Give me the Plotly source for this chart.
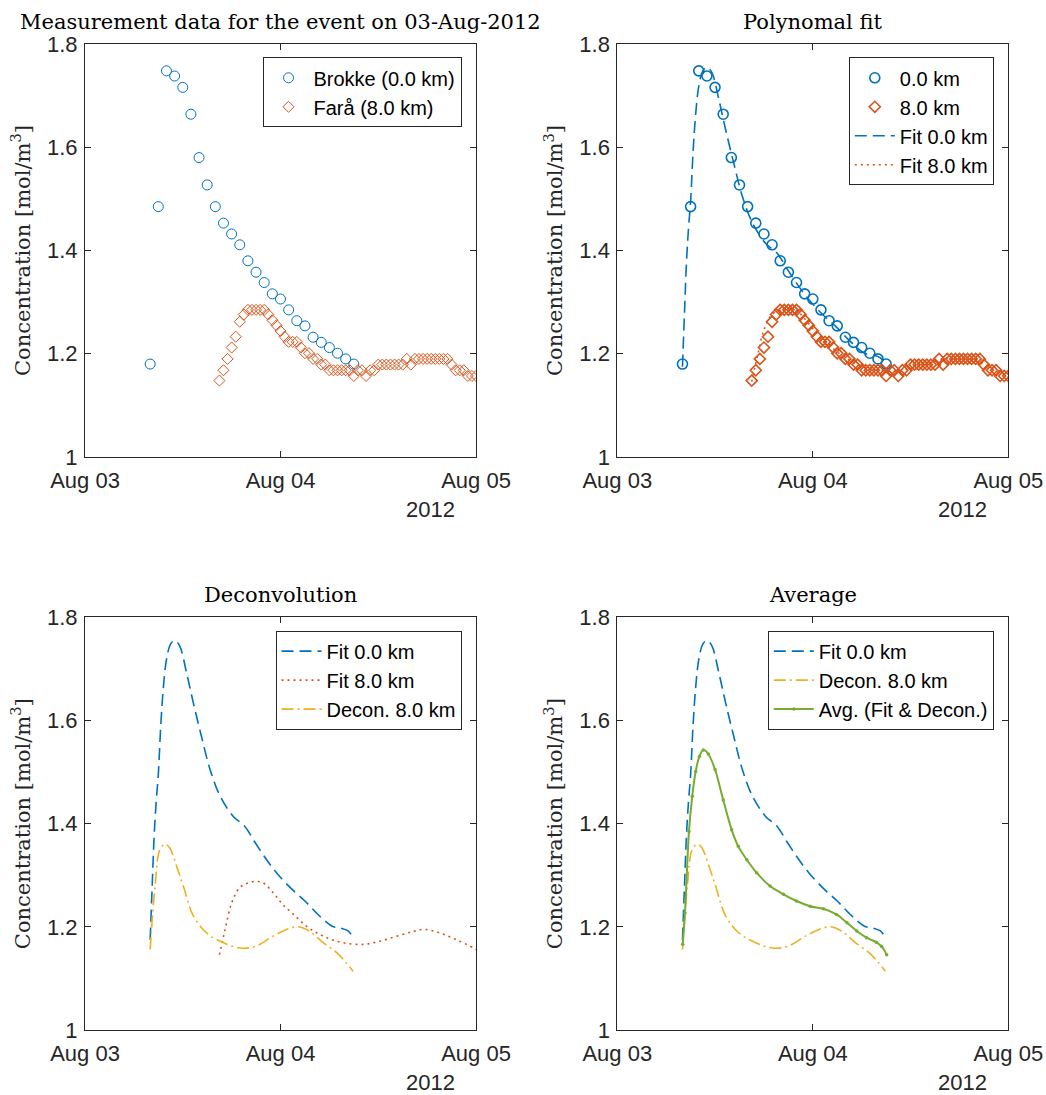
import pandas as pd
import plotly.graph_objects as go

# ---------------- data (hours after 03-Aug-2012 00:00) ----------------
brokke_hours = [8, 9, 10, 11, 12, 13, 14, 15, 16, 17, 18, 19, 20, 21, 22, 23, 24,
                25, 26, 27, 28, 29, 30, 31, 32, 33]
brokke_conc = [1.180, 1.485, 1.748, 1.738, 1.716, 1.664, 1.580, 1.527, 1.485, 1.453,
               1.432, 1.411, 1.380, 1.358, 1.338, 1.316, 1.306, 1.285, 1.264, 1.254,
               1.232, 1.222, 1.212, 1.201, 1.190, 1.180]

fara_hours = [16.5, 17.0, 17.5, 18.0, 18.5, 19.0, 19.5, 20.0, 20.5, 21.0, 21.5, 22.0,
              22.5, 23.0, 23.5, 24.0, 24.5, 25.0, 25.5, 26.0, 26.5, 27.0, 27.5, 28.0,
              28.5, 29.0, 29.5, 30.0, 30.5, 31.0, 31.5, 32.0, 32.5, 33.0, 33.5, 34.0,
              34.5, 35.0, 35.5, 36.0, 36.5, 37.0, 37.5, 38.0, 38.5, 39.0, 39.5, 40.0,
              40.5, 41.0, 41.5, 42.0, 42.5, 43.0, 43.5, 44.0, 44.5, 45.0, 45.5, 46.0,
              46.5, 47.0, 47.5, 48.0]
fara_conc = [1.148, 1.168, 1.190, 1.212, 1.233, 1.262, 1.276, 1.285, 1.285, 1.285, 1.285, 1.285,
             1.276, 1.265, 1.255, 1.244, 1.233, 1.223, 1.223, 1.223, 1.212, 1.201, 1.201, 1.190,
             1.190, 1.179, 1.179, 1.168, 1.168, 1.168, 1.168, 1.168, 1.168, 1.157, 1.168, 1.168,
             1.157, 1.168, 1.168, 1.179, 1.179, 1.179, 1.179, 1.179, 1.179, 1.179, 1.190, 1.179,
             1.190, 1.190, 1.190, 1.190, 1.190, 1.190, 1.190, 1.190, 1.190, 1.179, 1.168, 1.168,
             1.168, 1.157, 1.157, 1.157]

fit0_hours = [8.0, 8.25, 8.5, 8.75, 9.0, 9.3, 9.6, 10.0, 10.5, 11.0, 11.6, 12.5, 13.3,
              14.3, 15.35, 16.6, 18.2, 19.6, 20.9, 22.3, 23.5, 25.2, 27.0, 28.4, 29.5,
              30.5, 31.3, 32.3, 32.9]
fit0_conc = [1.175, 1.280, 1.380, 1.445, 1.495, 1.590, 1.660, 1.718, 1.748, 1.755, 1.745,
             1.690, 1.634, 1.569, 1.505, 1.453, 1.414, 1.395, 1.363, 1.330, 1.305, 1.276,
             1.250, 1.227, 1.211, 1.200, 1.198, 1.192, 1.179]

fit8_hours = [16.5, 17.2, 18.0, 19.0, 20.05, 20.9, 21.9, 23.1, 24.3, 25.6, 27.2, 28.85,
              30.5, 32.1, 34.2, 36.2, 38.3, 40.3, 41.7, 43.6, 45.6, 47.7, 48.0]
fit8_conc = [1.146, 1.195, 1.246, 1.276, 1.285, 1.288, 1.285, 1.266, 1.243, 1.224, 1.201,
             1.185, 1.174, 1.168, 1.166, 1.172, 1.182, 1.191, 1.195, 1.188, 1.175, 1.159,
             1.156]

decon8_hours = [8.0, 8.6, 9.2, 9.82, 10.4, 11.26, 12.07, 13.3, 14.94, 17.0, 19.03, 20.9,
                23.1, 24.76, 26.2, 27.6, 29.26, 30.9, 32.1, 32.9]
decon8_conc = [1.156, 1.279, 1.350, 1.360, 1.353, 1.317, 1.279, 1.221, 1.188, 1.169, 1.159,
               1.162, 1.182, 1.195, 1.200, 1.191, 1.169, 1.150, 1.130, 1.114]

avg_hours = [8.03, 8.31, 8.8, 9.2, 9.62, 10.07, 10.56, 11.17, 12.0, 13.0, 14.04, 14.85,
             15.9, 17.1, 18.75, 20.4, 22.0, 23.66, 25.3, 26.9, 28.2, 29.4, 30.6, 31.8,
             32.45, 33.07]
avg_conc = [1.166, 1.227, 1.385, 1.453, 1.501, 1.530, 1.543, 1.535, 1.505, 1.446, 1.388,
            1.356, 1.330, 1.305, 1.279, 1.263, 1.250, 1.240, 1.235, 1.224, 1.208, 1.192,
            1.179, 1.170, 1.162, 1.146]

titles = ["Measurement data for the event on 03-Aug-2012", "Polynomal fit",
          "Deconvolution", "Average"]
x_ticks = ["2012-08-03", "2012-08-04", "2012-08-05"]
year_label = "2012"
y_label = "Concentration [mol/m<sup>3</sup>]"

# ---------------- helpers ----------------
BASE = pd.Timestamp("2012-08-03 00:00")


def to_time(hours):
    return [BASE + pd.Timedelta(hours=h) for h in hours]


BLUE = "#0072BD"
ORANGE = "#D95319"
YELLOW = "#EDB120"
GREEN = "#77AC30"
AX = "#262626"

W, H = 1046, 1095
# pixel boxes of the four axes: (left, right, top, bottom)
boxes = [(85, 476, 44, 457), (617.3, 1008.3, 44, 457),
         (85, 476, 617.3, 1030), (617.3, 1008.3, 617.3, 1030)]

DASH = "12px,6px"
DOT = "2px,4px"
DASHDOT = "12px,4px,2px,4px"

fig = go.Figure()

# panel 1
fig.add_trace(go.Scatter(x=to_time(brokke_hours), y=brokke_conc, mode="markers",
                         name="Brokke (0.0 km)", xaxis="x", yaxis="y", legend="legend",
                         marker=dict(symbol="circle-open", size=10, color=BLUE,
                                     line=dict(width=1, color=BLUE))))
fig.add_trace(go.Scatter(x=to_time(fara_hours), y=fara_conc, mode="markers",
                         name="Farå (8.0 km)", xaxis="x", yaxis="y", legend="legend",
                         marker=dict(symbol="diamond-open", size=8.5, color=ORANGE,
                                     line=dict(width=1, color=ORANGE))))

# panel 2
fig.add_trace(go.Scatter(x=to_time(brokke_hours), y=brokke_conc, mode="markers",
                         name="0.0 km", xaxis="x2", yaxis="y2", legend="legend2",
                         marker=dict(symbol="circle-open", size=10, color=BLUE,
                                     line=dict(width=1.6, color=BLUE))))
fig.add_trace(go.Scatter(x=to_time(fara_hours), y=fara_conc, mode="markers",
                         name="8.0 km", xaxis="x2", yaxis="y2", legend="legend2",
                         marker=dict(symbol="diamond-open", size=8.5, color=ORANGE,
                                     line=dict(width=1.6, color=ORANGE))))
fig.add_trace(go.Scatter(x=to_time(fit0_hours), y=fit0_conc, mode="lines",
                         name="Fit 0.0 km", xaxis="x2", yaxis="y2", legend="legend2",
                         line=dict(color=BLUE, width=1.6, dash=DASH, shape="spline")))
fig.add_trace(go.Scatter(x=to_time(fit8_hours), y=fit8_conc, mode="lines",
                         name="Fit 8.0 km", xaxis="x2", yaxis="y2", legend="legend2",
                         line=dict(color=ORANGE, width=1.6, dash=DOT, shape="spline")))

# panel 3
fig.add_trace(go.Scatter(x=to_time(fit0_hours), y=fit0_conc, mode="lines",
                         name="Fit 0.0 km", xaxis="x3", yaxis="y3", legend="legend3",
                         line=dict(color=BLUE, width=1.6, dash=DASH, shape="spline")))
fig.add_trace(go.Scatter(x=to_time(fit8_hours), y=fit8_conc, mode="lines",
                         name="Fit 8.0 km", xaxis="x3", yaxis="y3", legend="legend3",
                         line=dict(color=ORANGE, width=1.6, dash=DOT, shape="spline")))
fig.add_trace(go.Scatter(x=to_time(decon8_hours), y=decon8_conc, mode="lines",
                         name="Decon. 8.0 km", xaxis="x3", yaxis="y3", legend="legend3",
                         line=dict(color=YELLOW, width=1.6, dash=DASHDOT, shape="spline")))

# panel 4
fig.add_trace(go.Scatter(x=to_time(fit0_hours), y=fit0_conc, mode="lines",
                         name="Fit 0.0 km", xaxis="x4", yaxis="y4", legend="legend4",
                         line=dict(color=BLUE, width=1.6, dash=DASH, shape="spline")))
fig.add_trace(go.Scatter(x=to_time(decon8_hours), y=decon8_conc, mode="lines",
                         name="Decon. 8.0 km", xaxis="x4", yaxis="y4", legend="legend4",
                         line=dict(color=YELLOW, width=1.6, dash=DASHDOT, shape="spline")))
fig.add_trace(go.Scatter(x=to_time(avg_hours), y=avg_conc, mode="lines+markers",
                         name="Avg. (Fit & Decon.)", xaxis="x4", yaxis="y4", legend="legend4",
                         line=dict(color=GREEN, width=2, shape="spline"),
                         marker=dict(symbol="circle", size=3.5, color=GREEN)))

layout = dict(width=W, height=H, margin=dict(l=0, r=0, t=0, b=0),
              paper_bgcolor="white", plot_bgcolor="white", showlegend=True)

tick_font = dict(family="Liberation Sans, Arial, sans-serif", size=22, color=AX)
serif = "DejaVu Serif, serif"
annotations = []

for i, (l, r, t, b) in enumerate(boxes):
    sfx = "" if i == 0 else str(i + 1)
    xd = [l / W, r / W]
    yd = [1 - b / H, 1 - t / H]
    layout["xaxis" + sfx] = dict(
        domain=xd, anchor="y" + sfx, type="date",
        range=["2012-08-03", "2012-08-05"], tickvals=x_ticks, tickformat="%b %d",
        showline=True, mirror="ticks", linecolor=AX, linewidth=1,
        ticks="inside", ticklen=6, tickcolor=AX, tickwidth=1,
        showgrid=False, zeroline=False, tickfont=tick_font, automargin=False,
        ticklabelstandoff=4)
    layout["yaxis" + sfx] = dict(
        domain=yd, anchor="x" + sfx, range=[1, 1.8], tick0=1, dtick=0.2,
        showline=True, mirror="ticks", linecolor=AX, linewidth=1,
        ticks="inside", ticklen=6, tickcolor=AX, tickwidth=1,
        showgrid=False, zeroline=False, tickfont=tick_font, automargin=False,
        ticklabelstandoff=2,
        title=dict(text=y_label, font=dict(family=serif, size=21, color=AX), standoff=10))
    annotations.append(dict(text=titles[i], xref="paper", yref="paper",
                            x=(l + r) / 2 / W, y=1 - (t - 22) / H,
                            xanchor="center", yanchor="middle", showarrow=False,
                            font=dict(family=serif, size=21, color="black")))
    annotations.append(dict(text=year_label, xref="paper", yref="paper",
                            x=(r - 46) / W, y=1 - (b + 52) / H,
                            xanchor="center", yanchor="middle", showarrow=False,
                            font=tick_font))
    leg = dict(x=(r - 14.5) / W, y=1 - (t + 13.3) / H, xanchor="right", yanchor="top",
               bgcolor="white", bordercolor=AX, borderwidth=1,
               font=dict(family="Liberation Sans, Arial, sans-serif", size=20, color="black"),
               itemwidth=40)
    layout["legend" if i == 0 else "legend" + str(i + 1)] = leg

layout["annotations"] = annotations
fig.update_layout(**layout)

fig.write_html("out.html", config={"displayModeBar": False},
               post_script="document.body.style.margin='0px';"
                           "document.body.style.overflow='hidden';")
